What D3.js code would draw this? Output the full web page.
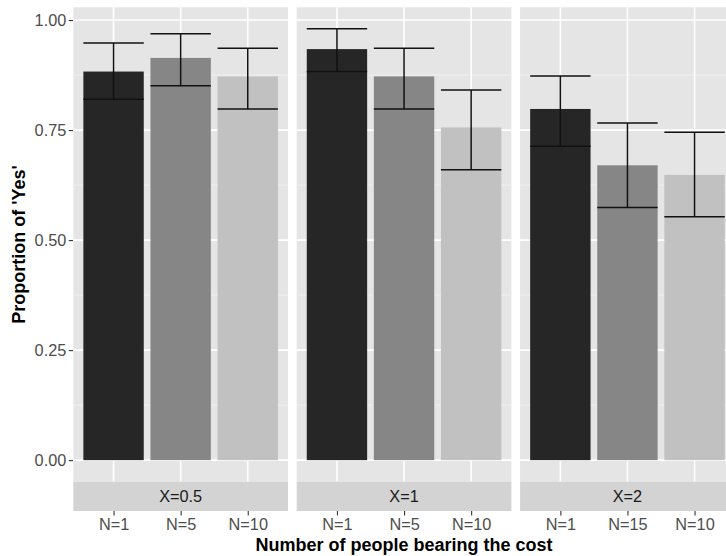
<!DOCTYPE html>
<html>
<head>
<meta charset="utf-8">
<script src="https://cdn.jsdelivr.net/npm/d3@7"></script>
<style>
  html, body { margin: 0; padding: 0; background: #ffffff; }
  svg { display: block; font-family: "Liberation Sans", Arial, Helvetica, sans-serif; }
</style>
</head>
<body>
<svg id="chart" width="726" height="556"></svg>
<script>
// Facets (cost multiplier X) and the group sizes shown in each facet
const facets = ["X=0.5", "X=1", "X=2"];
const groupLabels = [
  ["N=1", "N=5", "N=10"],
  ["N=1", "N=5", "N=10"],
  ["N=1", "N=15", "N=10"]
];
// Proportion answering 'Yes' with lower / upper error-bar limits
const proportion = [
  [0.883, 0.914, 0.872],
  [0.934, 0.872, 0.756],
  [0.798, 0.670, 0.648]
];
const lowerCI = [
  [0.820, 0.851, 0.798],
  [0.883, 0.798, 0.660],
  [0.713, 0.574, 0.553]
];
const upperCI = [
  [0.948, 0.969, 0.936],
  [0.980, 0.936, 0.841],
  [0.873, 0.766, 0.745]
];
const yTicks = [0, 0.25, 0.5, 0.75, 1.0];
const yMinor = [0.125, 0.375, 0.625, 0.875];
const fills = ["#262626", "#868686", "#c1c1c1"];

const svg = d3.select("#chart");

// Layout
const panelLeft = 73.3, panelTop = 7.3, panelBottom = 481.7;
const panelW = 214.7, panelGap = 8.7;
const stripH = 29.3;
const tickFont = "16.3px";
const titleFont = "18px";

// Shared y scale with 5% expansion on both ends
const yMax = d3.max(upperCI.flat());
const pad = 0.05 * yMax;
const y = d3.scaleLinear().domain([-pad, yMax + pad]).range([panelBottom, panelTop]);

// Y axis ticks and labels
const yAxis = svg.append("g").attr("transform", `translate(${panelLeft},0)`)
  .call(d3.axisLeft(y).tickValues(yTicks).tickFormat(d3.format(".2f")).tickSize(4.5).tickPadding(2.5));
yAxis.select(".domain").remove();
yAxis.selectAll(".tick line").attr("stroke", "#333333").attr("stroke-width", 1.1);
yAxis.selectAll(".tick text").attr("fill", "#4d4d4d").style("font-size", tickFont);

facets.forEach((facet, fi) => {
  const x0 = panelLeft + fi * (panelW + panelGap);
  const x = d3.scalePoint().domain(groupLabels[fi]).range([x0, x0 + panelW]).padding(0.6);
  const bw = 0.9 * x.step();
  const g = svg.append("g");

  // Panel background
  g.append("rect").attr("x", x0).attr("y", panelTop)
    .attr("width", panelW).attr("height", panelBottom - panelTop).attr("fill", "#e5e5e5");

  // Grid lines
  g.selectAll(".minor").data(yMinor).join("line")
    .attr("x1", x0).attr("x2", x0 + panelW)
    .attr("y1", d => y(d)).attr("y2", d => y(d))
    .attr("stroke", "#f2f2f2").attr("stroke-width", 0.8);
  g.selectAll(".major").data(yTicks).join("line")
    .attr("x1", x0).attr("x2", x0 + panelW)
    .attr("y1", d => y(d)).attr("y2", d => y(d))
    .attr("stroke", "#ffffff").attr("stroke-width", 1.6);
  g.selectAll(".vmajor").data(groupLabels[fi]).join("line")
    .attr("x1", d => x(d)).attr("x2", d => x(d))
    .attr("y1", panelTop).attr("y2", panelBottom)
    .attr("stroke", "#ffffff").attr("stroke-width", 1.6);

  const rows = groupLabels[fi].map((lab, i) => ({
    lab, i, v: proportion[fi][i], lo: lowerCI[fi][i], hi: upperCI[fi][i]
  }));

  // Bars
  g.selectAll(".bar").data(rows).join("rect")
    .attr("x", d => x(d.lab) - bw / 2).attr("width", bw)
    .attr("y", d => y(d.v)).attr("height", d => y(0) - y(d.v))
    .attr("fill", d => fills[d.i]);

  // Error bars
  const eb = g.selectAll(".eb").data(rows).join("g").attr("stroke", "#111111").attr("stroke-width", 1.5);
  eb.append("line").attr("x1", d => x(d.lab)).attr("x2", d => x(d.lab))
    .attr("y1", d => y(d.lo)).attr("y2", d => y(d.hi));
  eb.append("line").attr("x1", d => x(d.lab) - bw / 2).attr("x2", d => x(d.lab) + bw / 2)
    .attr("y1", d => y(d.lo)).attr("y2", d => y(d.lo));
  eb.append("line").attr("x1", d => x(d.lab) - bw / 2).attr("x2", d => x(d.lab) + bw / 2)
    .attr("y1", d => y(d.hi)).attr("y2", d => y(d.hi));

  // Facet strip below the panel
  g.append("rect").attr("x", x0).attr("y", panelBottom)
    .attr("width", panelW).attr("height", stripH).attr("fill", "#d3d3d3");
  g.append("text").attr("x", x0 + panelW / 2).attr("y", panelBottom + stripH / 2)
    .attr("dy", "0.35em").attr("text-anchor", "middle")
    .attr("fill", "#1a1a1a").style("font-size", tickFont).text(facet);

  // X axis under the strip
  const xa = g.append("g").attr("transform", `translate(0,${panelBottom + stripH})`)
    .call(d3.axisBottom(x).tickSize(4.5).tickPadding(2.5));
  xa.select(".domain").remove();
  xa.selectAll(".tick line").attr("stroke", "#333333").attr("stroke-width", 1.1);
  xa.selectAll(".tick text").attr("fill", "#4d4d4d").style("font-size", tickFont);
});

// Axis titles
const plotCenterX = panelLeft + (3 * panelW + 2 * panelGap) / 2;
svg.append("text").attr("x", plotCenterX).attr("y", 551)
  .attr("text-anchor", "middle").attr("fill", "#000000")
  .style("font-size", titleFont).style("font-weight", "bold")
  .text("Number of people bearing the cost");
svg.append("text")
  .attr("transform", `translate(24.5,${(panelTop + panelBottom) / 2}) rotate(-90)`)
  .attr("text-anchor", "middle").attr("fill", "#000000")
  .style("font-size", titleFont).style("font-weight", "bold")
  .text("Proportion of 'Yes'");
</script>
</body>
</html>
